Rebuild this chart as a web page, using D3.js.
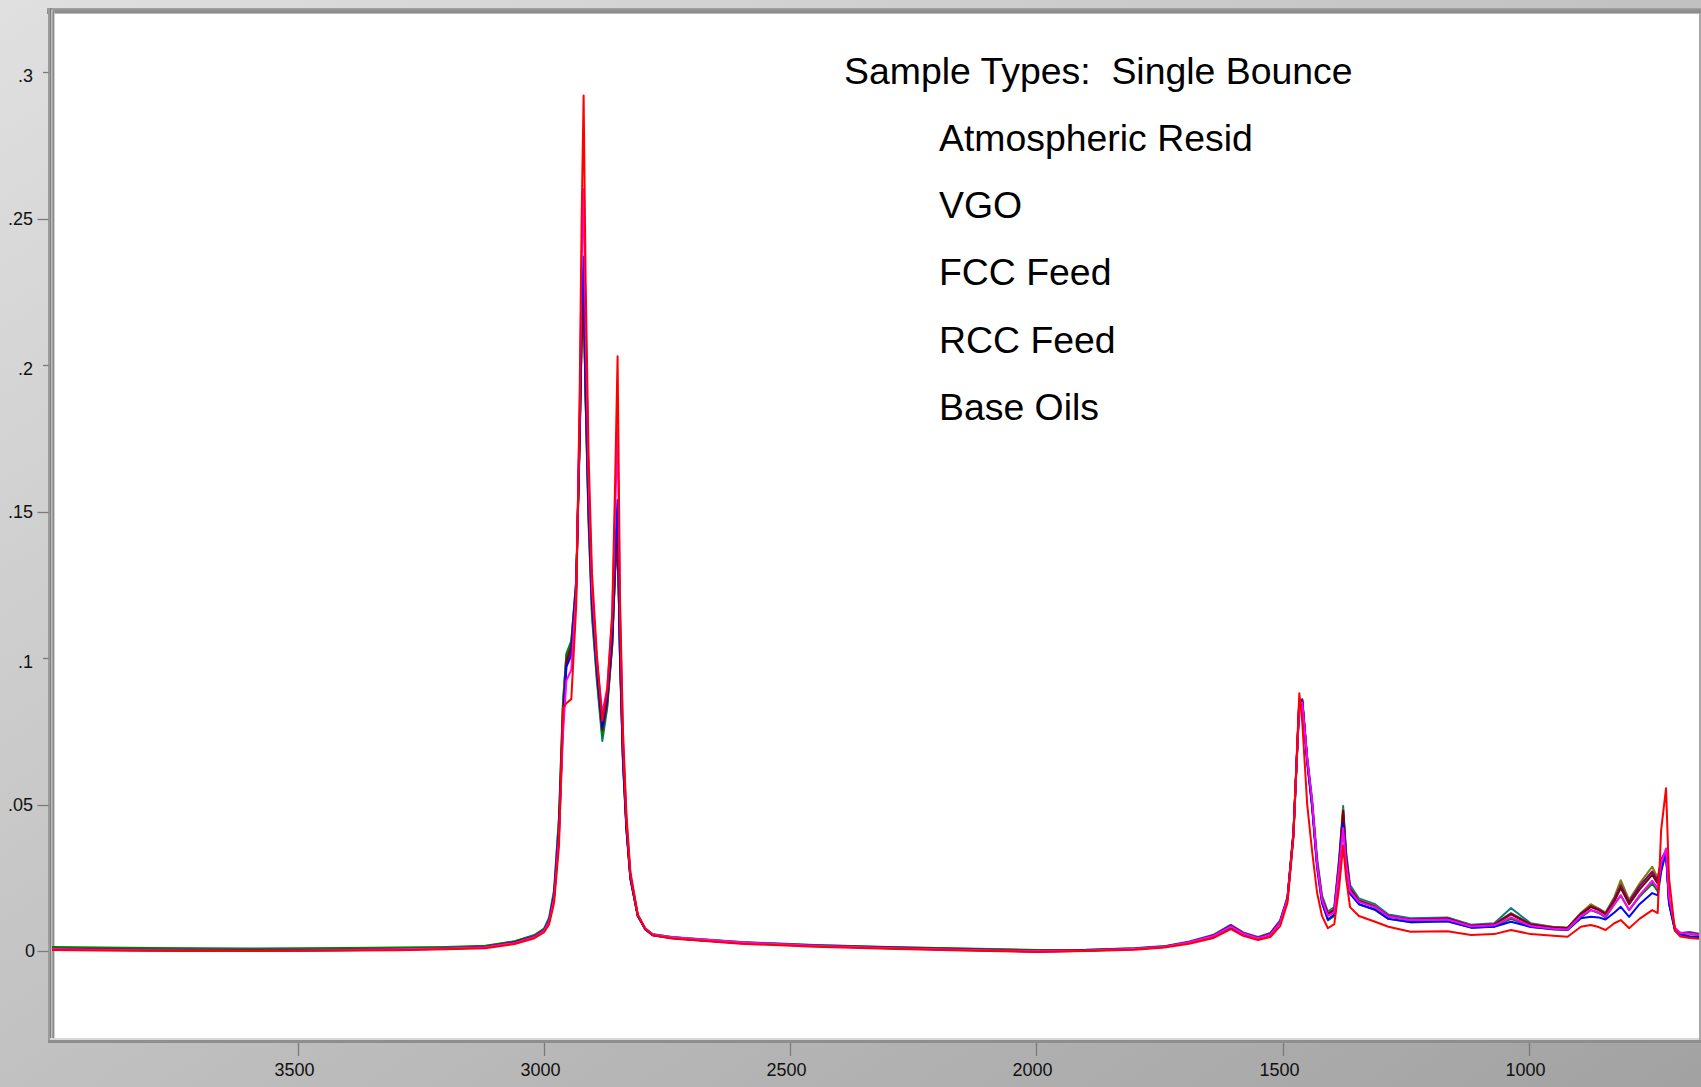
<!DOCTYPE html>
<html>
<head>
<meta charset="utf-8">
<script src="https://cdn.jsdelivr.net/npm/d3@7"></script>
<style>
  html, body { margin: 0; padding: 0; overflow: hidden; }
  svg { display: block; }
  text { font-family: "Liberation Sans", Arial, sans-serif; }
</style>
</head>
<body>
<script>
// ---------------- DATA ----------------
const wavenumbers = [
  4000,3900,3800,3700,3600,3500,3400,3300,3200,3120,
  3060,3020,3000,2990,2980,2970,2962,2955,2945,2935,
  2928,2924,2920,2916,2910,2903,2893,2882,2872,2862,
  2856,2851,2846,2840,2833,2825,2810,2795,2780,2740,
  2700,2600,2450,2300,2150,2000,1900,1800,1740,1690,
  1640,1605,1580,1550,1525,1505,1490,1478,1466,1460,
  1450,1440,1430,1420,1408,1395,1385,1377,1371,1363,
  1345,1312,1285,1240,1165,1117,1070,1036,996,950,
  921,894,874,858,844,826,813,796,775,749,
  738,731,721,715,703,692,673,650
];

const tealSample = [
  0.0010,0.0008,0.0006,0.0005,0.0004,0.0005,0.0006,0.0008,0.0011,0.0016,
  0.0034,0.0055,0.0078,0.0115,0.0210,0.0460,0.0850,0.1015,0.1060,0.1270,
  0.1760,0.2120,0.2260,0.1880,0.1460,0.1140,0.0920,0.0717,0.0830,0.1040,
  0.1310,0.1440,0.0990,0.0640,0.0410,0.0245,0.0120,0.0078,0.0058,0.0047,
  0.0042,0.0030,0.0020,0.0013,0.0008,0.0002,0.0004,0.0010,0.0017,0.0033,
  0.0056,0.0090,0.0064,0.0048,0.0062,0.0105,0.0185,0.0410,0.0840,0.0860,
  0.0660,0.0520,0.0320,0.0190,0.0135,0.0150,0.0320,0.0495,0.0340,0.0225,
  0.0180,0.0160,0.0125,0.0112,0.0115,0.0090,0.0095,0.0147,0.0095,0.0082,
  0.0080,0.0130,0.0155,0.0145,0.0130,0.0180,0.0230,0.0170,0.0220,0.0270,
  0.0240,0.0310,0.0345,0.0175,0.0078,0.0062,0.0065,0.0058
];
const oliveSample = [
  0.0009,0.0007,0.0005,0.0004,0.0003,0.0004,0.0006,0.0007,0.0010,0.0015,
  0.0031,0.0052,0.0074,0.0108,0.0195,0.0430,0.0820,0.1000,0.1045,0.1255,
  0.1740,0.2090,0.2230,0.1910,0.1510,0.1190,0.0960,0.0760,0.0855,0.1045,
  0.1290,0.1410,0.1010,0.0660,0.0425,0.0252,0.0122,0.0076,0.0056,0.0046,
  0.0041,0.0029,0.0019,0.0012,0.0007,0.0001,0.0003,0.0009,0.0016,0.0031,
  0.0053,0.0086,0.0062,0.0046,0.0060,0.0102,0.0182,0.0405,0.0850,0.0855,
  0.0650,0.0505,0.0305,0.0180,0.0130,0.0145,0.0310,0.0485,0.0330,0.0215,
  0.0175,0.0155,0.0120,0.0108,0.0112,0.0088,0.0092,0.0130,0.0092,0.0082,
  0.0080,0.0130,0.0160,0.0145,0.0132,0.0185,0.0242,0.0175,0.0230,0.0288,
  0.0250,0.0310,0.0335,0.0170,0.0076,0.0062,0.0062,0.0056
];
const greenSample = [
  0.0014,0.0012,0.0011,0.0010,0.0009,0.0010,0.0011,0.0012,0.0014,0.0018,
  0.0033,0.0053,0.0075,0.0110,0.0200,0.0450,0.0840,0.1010,0.1055,0.1262,
  0.1755,0.2110,0.2240,0.1890,0.1480,0.1160,0.0935,0.0735,0.0840,0.1045,
  0.1305,0.1430,0.0995,0.0645,0.0415,0.0248,0.0121,0.0077,0.0057,0.0048,
  0.0043,0.0031,0.0021,0.0014,0.0009,0.0004,0.0005,0.0010,0.0016,0.0030,
  0.0050,0.0080,0.0058,0.0042,0.0055,0.0098,0.0178,0.0395,0.0845,0.0852,
  0.0645,0.0495,0.0290,0.0165,0.0105,0.0120,0.0290,0.0470,0.0310,0.0200,
  0.0160,0.0140,0.0110,0.0098,0.0102,0.0080,0.0084,0.0110,0.0083,0.0074,
  0.0072,0.0115,0.0140,0.0130,0.0115,0.0160,0.0190,0.0140,0.0185,0.0230,
  0.0205,0.0290,0.0330,0.0160,0.0070,0.0056,0.0050,0.0050
];
const purpleSample = [
  0.0007,0.0005,0.0004,0.0002,0.0002,0.0003,0.0004,0.0006,0.0008,0.0013,
  0.0029,0.0049,0.0071,0.0104,0.0188,0.0415,0.0790,0.0975,0.1025,0.1245,
  0.1770,0.2140,0.2300,0.1950,0.1530,0.1200,0.0965,0.0770,0.0865,0.1070,
  0.1330,0.1460,0.1020,0.0660,0.0425,0.0252,0.0121,0.0075,0.0055,0.0045,
  0.0040,0.0028,0.0018,0.0011,0.0005,0.0000,0.0002,0.0008,0.0015,0.0030,
  0.0054,0.0088,0.0062,0.0046,0.0060,0.0102,0.0182,0.0402,0.0855,0.0858,
  0.0652,0.0500,0.0300,0.0178,0.0128,0.0142,0.0305,0.0475,0.0325,0.0215,
  0.0172,0.0152,0.0120,0.0108,0.0112,0.0087,0.0092,0.0128,0.0092,0.0081,
  0.0079,0.0128,0.0153,0.0143,0.0128,0.0178,0.0225,0.0168,0.0222,0.0272,
  0.0242,0.0312,0.0342,0.0172,0.0076,0.0061,0.0063,0.0056
];
const maroonSample = [
  0.0008,0.0006,0.0004,0.0003,0.0002,0.0003,0.0005,0.0006,0.0009,0.0014,
  0.0030,0.0050,0.0072,0.0105,0.0190,0.0420,0.0800,0.0990,0.1040,0.1250,
  0.1750,0.2100,0.2225,0.1900,0.1500,0.1180,0.0950,0.0755,0.0850,0.1050,
  0.1300,0.1420,0.1000,0.0650,0.0420,0.0250,0.0120,0.0075,0.0055,0.0045,
  0.0040,0.0028,0.0018,0.0012,0.0006,0.0001,0.0003,0.0008,0.0015,0.0030,
  0.0052,0.0085,0.0060,0.0045,0.0058,0.0100,0.0180,0.0400,0.0860,0.0850,
  0.0655,0.0502,0.0302,0.0178,0.0125,0.0140,0.0300,0.0480,0.0320,0.0210,
  0.0170,0.0150,0.0118,0.0106,0.0110,0.0085,0.0090,0.0125,0.0090,0.0080,
  0.0078,0.0125,0.0150,0.0140,0.0125,0.0170,0.0215,0.0160,0.0210,0.0260,
  0.0230,0.0300,0.0340,0.0170,0.0075,0.0060,0.0060,0.0055
];
const blueSample = [
  0.0006,0.0004,0.0002,0.0001,0.0001,0.0002,0.0003,0.0005,0.0008,0.0012,
  0.0028,0.0048,0.0070,0.0102,0.0185,0.0405,0.0770,0.0970,0.1010,0.1240,
  0.1800,0.2200,0.2370,0.2000,0.1560,0.1210,0.0970,0.0765,0.0870,0.1080,
  0.1380,0.1540,0.1060,0.0680,0.0430,0.0255,0.0122,0.0075,0.0054,0.0044,
  0.0039,0.0027,0.0017,0.0010,0.0004,-0.0002,0.0001,0.0007,0.0014,0.0029,
  0.0050,0.0082,0.0058,0.0042,0.0055,0.0098,0.0178,0.0398,0.0855,0.0850,
  0.0645,0.0490,0.0285,0.0165,0.0108,0.0125,0.0280,0.0437,0.0300,0.0195,
  0.0160,0.0142,0.0110,0.0099,0.0102,0.0080,0.0083,0.0100,0.0082,0.0075,
  0.0073,0.0112,0.0117,0.0115,0.0108,0.0132,0.0151,0.0117,0.0160,0.0198,
  0.0190,0.0270,0.0340,0.0165,0.0072,0.0058,0.0050,0.0048
];
const magentaSample = [
  0.0007,0.0005,0.0003,0.0002,0.0001,0.0002,0.0004,0.0006,0.0009,0.0013,
  0.0028,0.0048,0.0070,0.0100,0.0180,0.0390,0.0740,0.0923,0.0960,0.1220,
  0.1850,0.2350,0.2600,0.2150,0.1620,0.1240,0.0990,0.0810,0.0900,0.1140,
  0.1500,0.1785,0.1150,0.0720,0.0450,0.0262,0.0124,0.0078,0.0057,0.0047,
  0.0042,0.0030,0.0018,0.0011,0.0005,0.0000,0.0002,0.0008,0.0015,0.0030,
  0.0052,0.0084,0.0060,0.0044,0.0056,0.0098,0.0178,0.0395,0.0845,0.0848,
  0.0660,0.0510,0.0300,0.0175,0.0120,0.0132,0.0285,0.0420,0.0300,0.0205,
  0.0168,0.0150,0.0118,0.0106,0.0108,0.0084,0.0088,0.0115,0.0086,0.0076,
  0.0074,0.0120,0.0140,0.0132,0.0118,0.0160,0.0190,0.0140,0.0190,0.0240,
  0.0215,0.0300,0.0350,0.0185,0.0080,0.0062,0.0060,0.0055
];
const redSample = [
  0.0004,0.0002,0.0001,0.0000,0.0000,0.0001,0.0002,0.0003,0.0006,0.0010,
  0.0024,0.0044,0.0065,0.0092,0.0165,0.0360,0.0830,0.0846,0.0860,0.1180,
  0.1900,0.2500,0.2920,0.2300,0.1700,0.1290,0.1010,0.0786,0.0890,0.1150,
  0.1600,0.2030,0.1200,0.0750,0.0465,0.0270,0.0125,0.0076,0.0054,0.0043,
  0.0038,0.0025,0.0015,0.0008,0.0002,-0.0003,0.0000,0.0005,0.0012,0.0025,
  0.0045,0.0075,0.0052,0.0038,0.0048,0.0085,0.0165,0.0390,0.0880,0.0780,
  0.0500,0.0340,0.0200,0.0120,0.0078,0.0092,0.0220,0.0360,0.0250,0.0150,
  0.0120,0.0100,0.0083,0.0066,0.0068,0.0055,0.0058,0.0072,0.0058,0.0052,
  0.0049,0.0083,0.0089,0.0082,0.0072,0.0095,0.0106,0.0078,0.0110,0.0140,
  0.0130,0.0413,0.0556,0.0250,0.0070,0.0050,0.0045,0.0042
];

const seriesNames  = ["teal","olive","green","purple","maroon","blue","magenta","red"];
const seriesValues = [tealSample, oliveSample, greenSample, purpleSample, maroonSample, blueSample, magentaSample, redSample];
const seriesColors = ["#008080","#808000","#008000","#800080","#800000","#0000ff","#ff00ff","#ff0000"];

const xTickValues = [3500, 3000, 2500, 2000, 1500, 1000];
const xTickLabels = ["3500","3000","2500","2000","1500","1000"];
const yTickValues = [0, 0.05, 0.1, 0.15, 0.2, 0.25, 0.3];
const yTickLabels = ["0", ".05", ".1", ".15", ".2", ".25", ".3"];
const yTickMajor  = [false, false, true, false, true, false, true];

const annotationTitle = "Sample Types:  Single Bounce";
const annotationItems = ["Atmospheric Resid", "VGO", "FCC Feed", "RCC Feed", "Base Oils"];

// ---------------- LAYOUT ----------------
const W = 1701, H = 1087;
const plot = { left: 55, top: 14, right: 1699, bottom: 1038 };

const x = d3.scaleLinear().domain([4000, 650]).range([52, 1701]);
const y = d3.scaleLinear().domain([-0.03, 0.32]).range([1039, 13.5]);

const svg = d3.select("body").append("svg").attr("width", W).attr("height", H);
const defs = svg.append("defs");
const grad = defs.append("linearGradient").attr("id", "bg")
  .attr("x1", "0").attr("y1", "0").attr("x2", "1").attr("y2", "1");
grad.append("stop").attr("offset", "0").attr("stop-color", "#e0e0e0");
grad.append("stop").attr("offset", "1").attr("stop-color", "#a2a2a2");

defs.append("clipPath").attr("id", "clip").append("rect")
  .attr("x", 51).attr("y", plot.top).attr("width", plot.right - 51).attr("height", plot.bottom - plot.top);

svg.append("rect").attr("width", W).attr("height", H).attr("fill", "url(#bg)");

// plot frame
svg.append("rect").attr("x", plot.left).attr("y", plot.top)
  .attr("width", plot.right - plot.left).attr("height", plot.bottom - plot.top).attr("fill", "#ffffff");
// top band
svg.append("rect").attr("x", 47).attr("y", 8).attr("width", W - 47).attr("height", 6).attr("fill", "#8d8d8d");
svg.append("rect").attr("x", 47).attr("y", 8).attr("width", W - 47).attr("height", 1.5).attr("fill", "#a0a0a0");
svg.append("rect").attr("x", 53).attr("y", 13).attr("width", W - 53).attr("height", 1).attr("fill", "#b8b8b8");
// left band
svg.append("rect").attr("x", 48).attr("y", 8).attr("width", 7).attr("height", 1035).attr("fill", "#9c9c9c");
svg.append("rect").attr("x", 50).attr("y", 8).attr("width", 1).attr("height", 1035).attr("fill", "#808080");
svg.append("rect").attr("x", 51).attr("y", 10).attr("width", 1.7).attr("height", 1030).attr("fill", "#bdbdbd");
svg.append("rect").attr("x", 52.7).attr("y", 11).attr("width", 1.3).attr("height", 1028).attr("fill", "#8a8a8a");
svg.append("rect").attr("x", 54).attr("y", 13).attr("width", 1).attr("height", 1026).attr("fill", "#cfcfcf");
// bottom band
svg.append("rect").attr("x", 50).attr("y", 1038).attr("width", W - 50).attr("height", 2).attr("fill", "#d6d6d6");
svg.append("rect").attr("x", 48).attr("y", 1040).attr("width", W - 48).attr("height", 3).attr("fill", "#8e8e8e");
// right border
svg.append("rect").attr("x", 1699).attr("y", 13).attr("width", 2).attr("height", 1027).attr("fill", "#a8a8a8");

// y axis ticks & labels
const yAxisG = svg.append("g");
yTickValues.forEach((v, i) => {
  const yy = Math.round(y(v)) + 0.5;
  const major = yTickMajor[i];
  yAxisG.append("line").attr("x1", major ? 43 : 37.5).attr("x2", 48.5)
    .attr("y1", yy).attr("y2", yy).attr("stroke", "#7a7a7a").attr("stroke-width", 1.3);
  yAxisG.append("text").attr("x", v === 0 ? 35 : 33).attr("y", yy + (major ? 9 : 5))
    .attr("text-anchor", "end").attr("font-size", 18).attr("fill", "#111").text(yTickLabels[i]);
});

// x axis ticks & labels
const xAxisG = svg.append("g");
xTickValues.forEach((v, i) => {
  const xx = Math.round(x(v)) + 0.5;
  xAxisG.append("line").attr("x1", xx).attr("x2", xx).attr("y1", 1043).attr("y2", 1056)
    .attr("stroke", "#7a7a7a").attr("stroke-width", 1.3);
  xAxisG.append("text").attr("x", xx - 4).attr("y", 1076)
    .attr("text-anchor", "middle").attr("font-size", 18).attr("fill", "#111").text(xTickLabels[i]);
});

// spectra
const line = d3.line()
  .x((d, i) => x(wavenumbers[i]))
  .y(d => y(d))
  .curve(d3.curveLinear);

const linesG = svg.append("g").attr("clip-path", "url(#clip)");
seriesValues.forEach((vals, k) => {
  linesG.append("path").datum(vals)
    .attr("d", line)
    .attr("fill", "none")
    .attr("stroke", seriesColors[k])
    .attr("stroke-width", 2)
    .attr("stroke-linejoin", "round")
    .attr("data-name", seriesNames[k]);
});

// annotation
const ann = svg.append("g");
ann.append("text").attr("x", 844).attr("y", 84).attr("font-size", 37.4).attr("fill", "#000")
  .style("white-space", "pre").attr("xml:space", "preserve").text(annotationTitle);
annotationItems.forEach((t, i) => {
  ann.append("text").attr("x", 939).attr("y", 151 + i * 67.2).attr("font-size", 37.4).attr("fill", "#000").text(t);
});
</script>
</body>
</html>
